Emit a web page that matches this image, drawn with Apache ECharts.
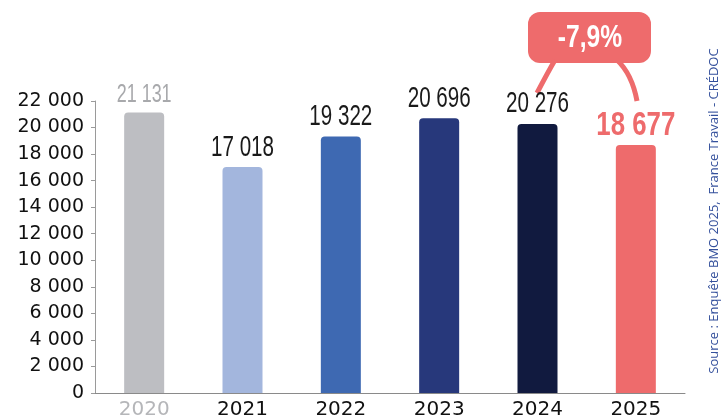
<!DOCTYPE html>
<html>
<head>
<meta charset="utf-8">
<script src="https://cdn.jsdelivr.net/npm/echarts@6/dist/echarts.min.js"></script>
<style>html,body{margin:0;padding:0;background:#fff}#c{width:726px;height:420px}</style>
</head>
<body>
<div id="c"></div>
<script>
const years = ['2020', '2021', '2022', '2023', '2024', '2025'];
const values = [21131, 17018, 19322, 20696, 20276, 18677];
const changeLabel = '-7,9%';
const sourceText = 'Source : Enquête BMO 2025,  France Travail - CRÉDOC';

const barColors = ['#bdbec2', '#a3b6dd', '#3e69b2', '#27387b', '#111a3f', '#ee6b6c'];
const yearColors = ['#b5b6b9', '#111', '#111', '#111', '#111', '#111'];
const fmt = n => String(n).replace(/\B(?=(\d{3})+(?!\d))/g, ' ');
const sans = '"Liberation Sans", Arial, sans-serif';

// label look: [font, color, horizontal squeeze, gap above bar]
const labelLook = values.map((v, i) => {
  if (i === 0) return { font: '26px ' + sans, color: '#a8a9ac', sx: 0.69, gap: 5 };
  if (i === values.length - 1) return { font: 'bold 34px ' + sans, color: '#ee6b6c', sx: 0.76, gap: 2 };
  return { font: '29px ' + sans, color: '#1a1a1a', sx: 0.71, gap: 5 };
});

const chart = echarts.init(document.getElementById('c'), null, { renderer: 'canvas' });
chart.setOption({
  animation: false,
  grid: { left: 95, right: 41, top: 101, bottom: 27, containLabel: false },
  xAxis: {
    type: 'category',
    data: years.map((y, i) => ({ value: y, textStyle: { color: yearColors[i] } })),
    axisLine: { lineStyle: { color: '#8a8a8a', width: 1 } },
    axisTick: { show: false },
    axisLabel: { fontSize: 20, fontFamily: '"DejaVu Sans", sans-serif', margin: 7 }
  },
  yAxis: {
    type: 'value',
    min: 0, max: 22000, interval: 2000,
    axisLine: { show: true, lineStyle: { color: '#9a9a9a', width: 1 } },
    axisTick: { show: true, length: 4, lineStyle: { color: '#9a9a9a' } },
    splitLine: { show: false },
    axisLabel: { fontSize: 19, color: '#111', fontFamily: '"DejaVu Sans", sans-serif', margin: 11, formatter: v => fmt(v) }
  },
  series: [{
    type: 'bar',
    barWidth: 40,
    data: values.map((v, i) => ({
      value: v,
      itemStyle: { color: barColors[i], borderRadius: [4, 4, 0, 0] }
    }))
  }, {
    type: 'custom',
    data: values.map((v, i) => [i, v]),
    renderItem: (params, api) => {
      const i = params.dataIndex;
      const p = api.coord([api.value(0), api.value(1)]);
      const look = labelLook[i];
      return {
        type: 'text', x: p[0], y: p[1] - look.gap, scaleX: look.sx,
        style: { text: fmt(api.value(1)), font: look.font, fill: look.color, align: 'center', verticalAlign: 'bottom' }
      };
    },
    z: 5
  }],
  graphic: [
    {
      type: 'rect', shape: { x: 528, y: 12, width: 123, height: 51, r: 12 },
      style: { fill: '#ee6b6c' }
    },
    {
      type: 'text', x: 590, y: 38, scaleX: 0.77,
      style: { text: changeLabel, fill: '#fff', font: 'bold 32px ' + sans, align: 'center', verticalAlign: 'middle' }
    },
    {
      type: 'bezierCurve',
      shape: { x1: 555, y1: 60, x2: 537, y2: 93, cpx1: 548, cpy1: 72 },
      style: { stroke: '#ee6b6c', lineWidth: 5, fill: null, lineCap: 'butt' }
    },
    {
      type: 'bezierCurve',
      shape: { x1: 617, y1: 60, x2: 637, y2: 101, cpx1: 632, cpy1: 74 },
      style: { stroke: '#ee6b6c', lineWidth: 5, fill: null, lineCap: 'butt' }
    },
    {
      type: 'text', x: 714, y: 211, rotation: Math.PI / 2,
      style: { text: sourceText, fill: '#34509c', font: '13px "Open Sans", sans-serif', align: 'center', verticalAlign: 'middle' }
    }
  ]
});
</script>
</body>
</html>
